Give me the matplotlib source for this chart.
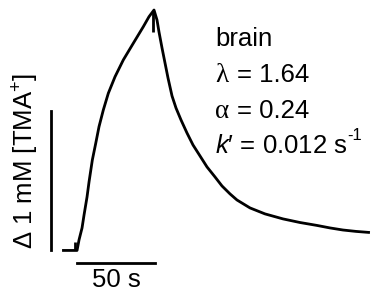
import matplotlib
matplotlib.use('Agg')
import matplotlib.pyplot as plt

plt.rcParams['font.family'] = ['Liberation Sans', 'DejaVu Sans']
plt.rcParams['mathtext.fontset'] = 'custom'
plt.rcParams['mathtext.rm'] = 'Liberation Sans'
plt.rcParams['mathtext.it'] = 'Liberation Sans:italic'
plt.rcParams['mathtext.sf'] = 'Liberation Sans'

# TMA+ concentration trace
# time in s (0 = start of rise), concentration in mM above baseline
base_t = [-9.6, -1.3]
base_c = [0.0, 0.0]

rise_t = [0.0, 1.28, 3.21, 4.49, 6.41, 7.69, 9.81, 11.99, 14.10, 16.86, 20.06,
          24.36, 29.68, 36.09, 42.50, 46.15, 49.36]
rise_c = [0.0, 0.076, 0.162, 0.255, 0.385, 0.493, 0.651, 0.771, 0.891, 1.011, 1.131,
          1.250, 1.371, 1.491, 1.610, 1.682, 1.730]

decay_t = [51.28, 52.56, 54.49, 56.41, 58.33, 60.90, 63.46, 66.67, 70.51, 74.36,
           78.85, 83.33, 88.46, 92.95, 98.08, 102.56, 110.90, 120.51, 132.05, 142.95,
           153.85, 162.18, 170.51, 178.85, 187.82]
decay_c = [1.658, 1.572, 1.457, 1.349, 1.241, 1.112, 1.025, 0.939, 0.845, 0.759,
           0.680, 0.601, 0.529, 0.464, 0.407, 0.363, 0.306, 0.263, 0.227, 0.201,
           0.180, 0.162, 0.147, 0.137, 0.129]

# small vertical marks (start / stop of iontophoresis)
mark_t = [-1.3, 48.5]
mark_lo = [0.0, 1.57]
mark_hi = [0.06, 1.72]

# fitted parameters
tissue = 'brain'
lam = '1.64'
alpha = '0.24'
kprime = '0.012'

# scale bars
bar_time = 50   # s
bar_conc = 1    # mM

fig = plt.figure(figsize=(3.71, 2.97), dpi=100)
ax = fig.add_axes([0, 0, 1, 1])
ax.set_xlim(-49.4, 188.5)
ax.set_ylim(-0.335, 1.802)
ax.axis('off')

t = base_t + rise_t + decay_t
c = base_c + rise_c + decay_c
ax.plot(t, c, color='black', lw=2.0, solid_joinstyle='round', solid_capstyle='butt')
ax.vlines(mark_t, mark_lo, mark_hi, color='black', lw=2.0)

# scale bars
ax.plot([-16.7, -16.7], [0, bar_conc], color='black', lw=2.0)
ax.plot([0, bar_time], [-0.09, -0.09], color='black', lw=2.0)
ax.text(bar_time / 2, -0.21, '%d s' % bar_time, fontsize=18.5, ha='center', va='center')
ax.text(-32.7, 0.645, r'$\Delta$ 1 mM [TMA$^{+}$]', fontsize=18.5, rotation=90,
        ha='center', va='center')

# parameter text
x0 = 88.5
fs = 18.5
ax.text(x0, 1.471, tissue, fontsize=fs, va='baseline')
ax.text(x0, 1.212, '\u03bb', fontsize=fs + 1, family='Liberation Serif', va='baseline')
ax.text(x0 + 14, 1.212, '= ' + lam, fontsize=fs, va='baseline')
ax.text(x0, 0.953, '\u03b1', fontsize=fs + 1, family='Liberation Serif', va='baseline')
ax.text(x0 + 14, 0.953, '= ' + alpha, fontsize=fs, va='baseline')
kt = ax.text(x0, 0.70, r'$k$' + '\u2032 = ' + kprime + ' s', fontsize=fs, va='baseline')
ax.annotate('-1', xy=(1.0, 0.62), xycoords=kt, fontsize=12, va='bottom', ha='left')

fig.savefig('out.png', dpi=100)
